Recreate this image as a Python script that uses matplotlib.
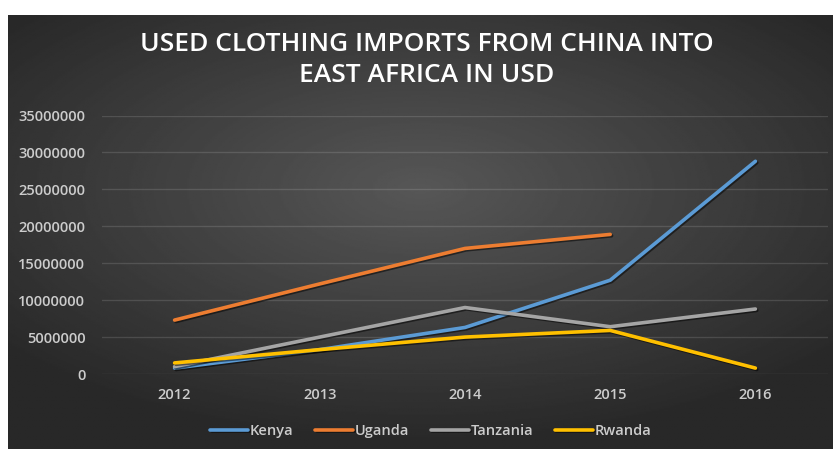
import numpy as np
import matplotlib
matplotlib.use('Agg')
import matplotlib.pyplot as plt
import matplotlib.patheffects as pe

years = ['2012', '2013', '2014', '2015', '2016']
kenya = [800000, 3300000, 6300000, 12700000, 28800000]
uganda = [7300000, 12200000, 17000000, 18900000]
tanzania = [1000000, 5000000, 9000000, 6400000, 8800000]
rwanda = [1500000, 3300000, 5000000, 5900000, 800000]

colors = {'Kenya': '#5B9BD5', 'Uganda': '#ED7D31',
          'Tanzania': '#A5A5A5', 'Rwanda': '#FFC000'}

plt.rcParams['font.family'] = ['Open Sans', 'DejaVu Sans']

fig = plt.figure(figsize=(8.33, 4.49), dpi=100)
fig.patch.set_facecolor('white')

# dark radial background behind the chart
bg = fig.add_axes([8 / 833, 0, 1 - 8 / 833, 1 - 15 / 449])
yy, xx = np.mgrid[-1:1:300j, -1:1:500j]
r = np.sqrt((xx / 1.0) ** 2 + ((yy - 0.2) / 0.9) ** 2)
bg.imshow(0.34 - 0.18 * np.clip(r, 0, 1.3) / 1.3, cmap='gray', vmin=0, vmax=1,
          aspect='auto', extent=[0, 1, 0, 1], origin='lower')
bg.set_axis_off()

ax = fig.add_axes([102 / 833, 1 - 374 / 449, (828 - 102) / 833, (374 - 115.5) / 449])
ax.set_facecolor('none')

x = np.arange(len(years))
shadow = [pe.SimpleLineShadow(offset=(1, -1), shadow_color='black', alpha=0.5), pe.Normal()]
for name, vals in [('Kenya', kenya), ('Uganda', uganda),
                   ('Tanzania', tanzania), ('Rwanda', rwanda)]:
    ax.plot(x[:len(vals)], vals, color=colors[name], lw=2.6, label=name,
            solid_capstyle='round', solid_joinstyle='round', path_effects=shadow)

ax.set_xlim(-0.5, 4.5)
ax.set_ylim(0, 35000000)
ax.set_yticks(np.arange(0, 35000001, 5000000))
ax.set_yticklabels([str(v) for v in range(0, 35000001, 5000000)])
ax.set_xticks(x)
ax.set_xticklabels(years)
ax.tick_params(colors='#cccccc', labelsize=10.5, length=0)
ax.tick_params(axis='y', pad=12)
ax.tick_params(axis='x', pad=10)
for lbl in ax.get_xticklabels() + ax.get_yticklabels():
    lbl.set_fontweight('semibold')
ax.grid(axis='y', color='white', alpha=0.13, lw=1)
ax.set_axisbelow(True)
for s in ax.spines.values():
    s.set_visible(False)

fig.text(0.512, 1 - 60 / 449, 'USED CLOTHING IMPORTS FROM CHINA INTO\nEAST AFRICA IN USD',
         ha='center', va='center', color='white', fontsize=19, fontweight='semibold',
         linespacing=1.33)

leg = fig.legend(loc='center', bbox_to_anchor=(0.517, 1 - 431 / 449), ncol=4,
                 frameon=False, handlelength=2.6, handletextpad=0.1,
                 columnspacing=1.5,
                 prop={'weight': 'semibold', 'size': 10.5})
for t in leg.get_texts():
    t.set_color('#cccccc')

fig.savefig('out.png', dpi=100, facecolor=fig.get_facecolor())
